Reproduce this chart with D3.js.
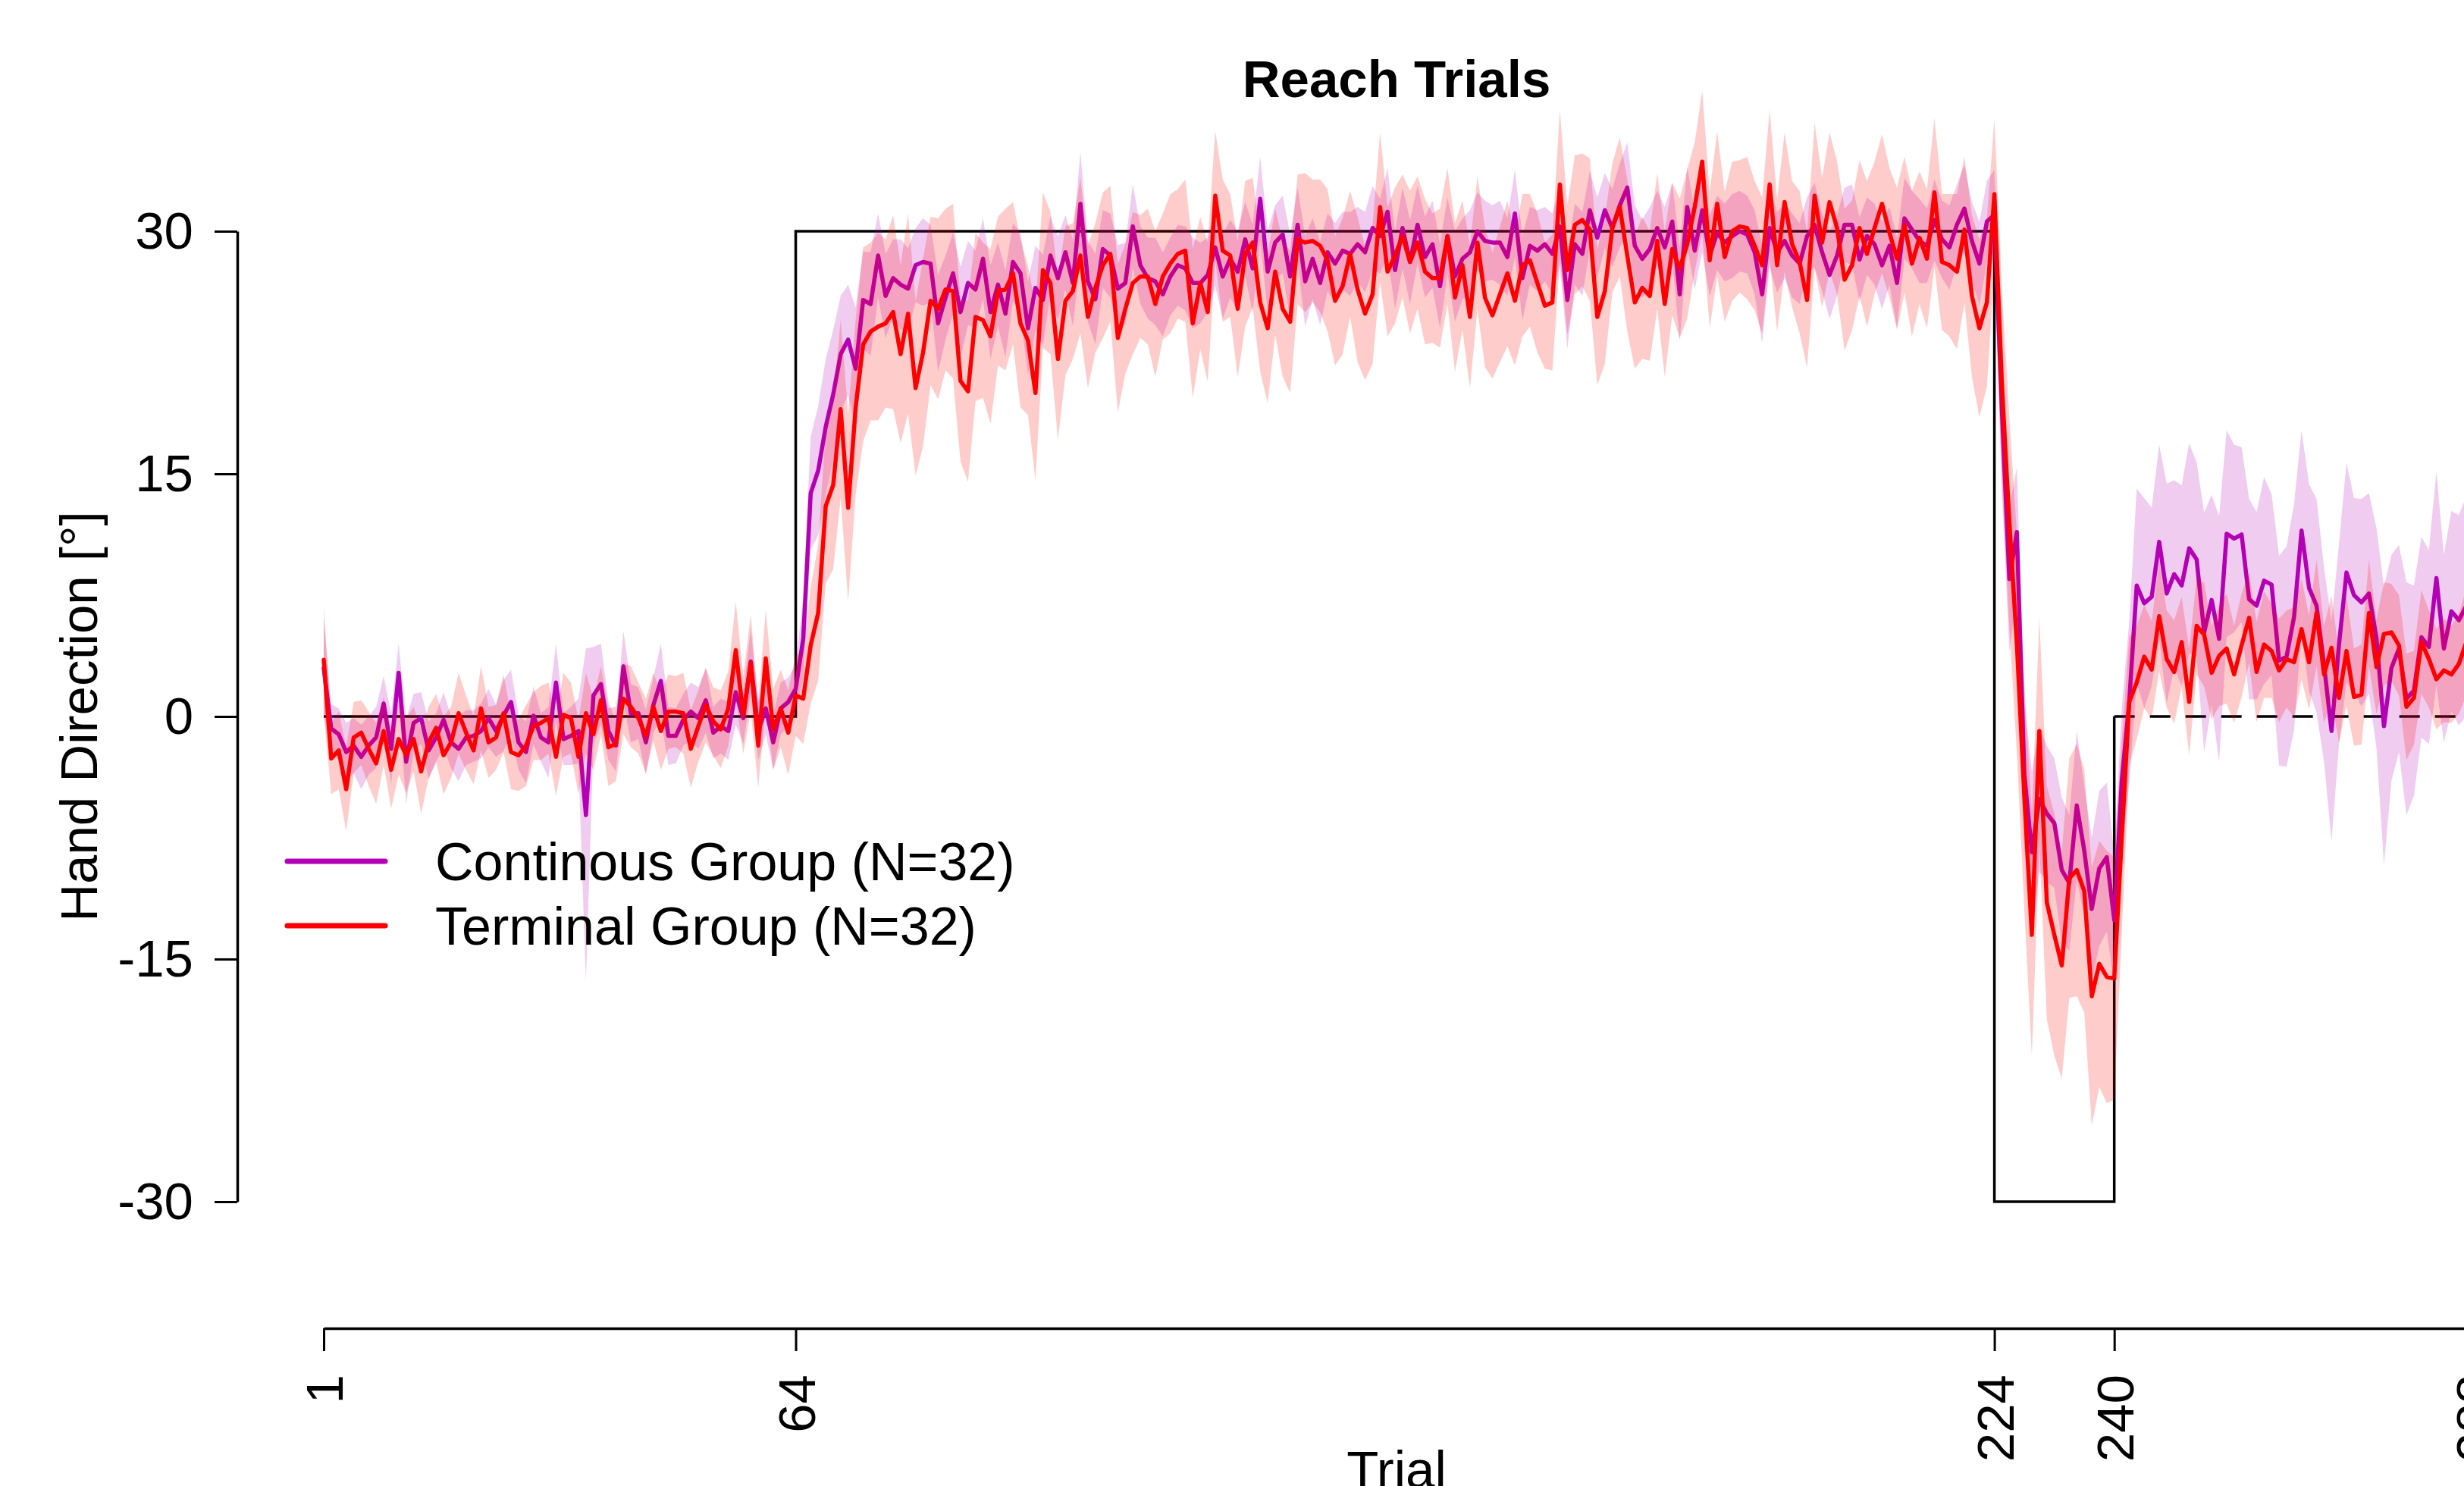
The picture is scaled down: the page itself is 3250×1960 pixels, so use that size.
<!DOCTYPE html>
<html>
<head>
<meta charset="utf-8">
<script src="https://cdn.jsdelivr.net/npm/d3@7"></script>
<style>
body { margin: 0; background: #fff; overflow: hidden; }
svg { display: block; }
text { font-family: "Liberation Sans", Arial, Helvetica, sans-serif; }
</style>
</head>
<body>
<script>
let width = 3250,
    height = 1960;

// perturbation schedule (trial, rotation)
let schedTrials = [1, 64, 64, 224, 224, 240, 240];
let schedRot    = [0, 0, 30, 30, -30, -30, 0];
let washTrials  = [240, 288];
let washRot     = [0, 0];

let xTicks = [1, 64, 224, 240, 288];
let yTicks = [-30, -15, 0, 15, 30];

let groupNames = ["Continous Group (N=32)", "Terminal Group (N=32)"];

// mean hand direction per trial, continuous group
let contMean = [
  3.0, -0.75, -1.1, -2.2, -1.8, -2.5, -1.8, -1.3, 0.8, -2.0,
  2.7, -2.8, -0.4, -0.1, -2.1, -1.3, -0.2, -1.6, -2.0, -1.3,
  -1.2, -0.9, -0.1, -0.9, 0.05, 0.9, -1.6, -2.2, 0.05, -1.3,
  -1.6, 2.1, -1.4, -1.2, -0.9, -6.1, 1.3, 2.0, -0.9, -1.8,
  3.1, 0.2, 0.2, -1.6, 0.7, 2.2, -1.2, -1.2, -0.2, 0.3,
  -0.1, 1.0, -1.0, -0.6, -0.9, 1.5, -0.1, 3.4, -0.9, 0.5,
  -1.6, 0.5, 0.9, 1.7, 4.8, 13.8, 15.2, 17.9, 19.9, 22.4,
  23.3, 21.5, 25.75, 25.5, 28.5, 26.0, 27.1, 26.7, 26.45, 27.9,
  28.1, 28.0, 24.3, 25.9, 27.4, 25.0, 26.8, 26.4, 28.3, 25.0,
  26.7, 24.9, 28.1, 27.4, 24.0, 26.5, 25.75, 28.5, 27.1, 28.7,
  26.8, 31.7, 26.9, 25.8, 28.9, 28.5, 26.45, 26.8, 30.3, 27.9,
  27.1, 26.9, 26.1, 27.2, 27.9, 27.7, 26.8, 26.8, 27.3, 29.0,
  27.2, 28.3, 27.5, 29.5, 27.7, 32.0, 27.5, 29.3, 29.8, 27.2,
  30.4, 26.9, 28.3, 26.8, 28.7, 28.0, 28.8, 28.6, 29.2, 28.7,
  30.2, 29.7, 31.2, 27.6, 30.2, 28.1, 30.4, 28.4, 29.2, 26.6,
  29.7, 27.2, 28.3, 28.7, 30.0, 29.4, 29.3, 29.3, 28.4, 31.1,
  27.1, 29.1, 28.8, 29.2, 28.6, 30.3, 25.75, 29.2, 28.6, 31.3,
  29.6, 31.3, 30.2, 31.6, 32.7, 29.1, 28.3, 28.9, 30.2, 29.0,
  30.6, 26.1, 31.5, 28.8, 31.3, 28.5, 29.9, 29.3, 29.7, 30.0,
  29.8, 28.7, 26.1, 30.2, 28.7, 29.4, 28.5, 28.0, 29.7, 30.4,
  28.7, 27.3, 28.5, 30.4, 30.4, 28.25, 29.7, 29.2, 27.9, 29.1,
  26.8, 30.8, 30.1, 29.4, 29.1, 30.7, 29.5, 29.0, 30.4, 31.4,
  29.4, 28.0, 30.6, 31.0, 19.0, 8.5, 11.4, -3.6, -8.4, -5.1,
  -6.0, -6.6, -9.5, -10.3, -5.5, -8.3, -11.9, -9.4, -8.7, -12.6,
  -4.0, 0.9, 8.1, 7.0, 7.4, 10.8, 7.6, 8.8, 8.1, 10.4,
  9.7, 5.2, 7.2, 4.8, 11.3, 11.0, 11.25, 7.25, 6.85, 8.4,
  8.15, 3.45, 3.7, 6.15, 11.5, 7.95, 6.85, 3.2, -0.9, 4.45,
  8.9, 7.5, 7.05, 7.6, 4.85, -0.6, 3.0, 4.2, 1.1, 1.6,
  4.9, 4.3, 8.55, 4.2, 6.5, 5.95, 6.85, 7.5
];

// 95% CI half-width per trial, continuous group
let contCI = [
  3.0, 1.5, 1.6, 1.8, 1.7, 2.0, 1.8, 1.9, 1.7, 2.2,
  1.8, 2.6, 1.8, 1.6, 1.8, 1.5, 1.7, 1.6, 2.0, 1.7,
  1.6, 1.7, 1.8, 1.6, 2.2, 2.0, 1.7, 1.9, 1.8, 1.5,
  2.2, 2.4, 1.6, 1.8, 2.0, 10.3, 3.0, 2.5, 1.8, 1.6,
  2.2, 1.8, 1.6, 2.0, 1.7, 2.3, 1.8, 1.7, 1.6, 1.8,
  1.9, 2.0, 1.6, 1.7, 1.8, 2.0, 1.6, 2.0, 1.8, 1.6,
  1.7, 1.6, 1.5, 1.5, 2.5, 3.5, 4.0, 4.2, 4.0, 3.6,
  3.4, 3.8, 3.0, 3.2, 2.6, 2.6, 2.4, 2.8, 2.5, 2.3,
  2.7, 2.4, 3.0, 2.6, 2.5, 2.8, 2.6, 2.4, 2.5, 2.9,
  2.6, 2.7, 2.4, 2.5, 2.9, 2.6, 2.8, 2.4, 2.6, 2.3,
  2.7, 3.2, 2.5, 2.8, 2.4, 2.6, 2.7, 2.5, 2.6, 2.4,
  2.5, 2.7, 2.6, 2.4, 2.5, 2.6, 2.8, 2.5, 2.3, 2.4,
  2.6, 2.4, 2.5, 2.3, 2.7, 2.6, 2.5, 2.3, 2.4, 2.6,
  2.3, 2.8, 2.5, 2.6, 2.4, 2.5, 2.4, 2.6, 2.3, 2.5,
  2.6, 2.3, 2.7, 2.4, 2.5, 2.6, 2.4, 2.5, 2.7, 2.6,
  2.4, 2.8, 2.5, 2.6, 2.4, 2.5, 2.3, 2.6, 2.4, 2.7,
  2.6, 2.4, 2.5, 2.3, 2.5, 2.4, 3.0, 2.5, 2.6, 2.4,
  2.5, 2.3, 2.4, 2.6, 2.8, 2.5, 2.4, 2.6, 2.3, 2.5,
  2.4, 2.9, 2.5, 2.4, 2.6, 2.5, 2.3, 2.4, 2.6, 2.5,
  2.4, 2.6, 3.0, 2.4, 2.5, 2.3, 2.6, 2.5, 2.4, 2.6,
  2.4, 2.7, 2.5, 2.3, 2.5, 2.6, 2.4, 2.5, 2.7, 2.4,
  2.8, 2.5, 2.4, 2.6, 2.3, 2.5, 2.4, 2.6, 2.5, 2.7,
  2.4, 2.6, 2.5, 2.8, 5.0, 4.5, 4.0, 4.5, 5.0, 4.5,
  4.2, 4.0, 4.5, 4.2, 4.6, 4.0, 4.4, 4.8, 4.6, 4.0,
  4.5, 5.0, 6.0, 6.5, 5.5, 6.0, 6.8, 5.8, 6.2, 6.5,
  6.0, 7.4, 6.5, 7.6, 6.4, 5.8, 5.4, 6.2, 5.8, 6.4,
  5.6, 6.5, 6.8, 7.0, 6.2, 6.4, 6.6, 6.0, 6.8, 6.2,
  6.8, 6.0, 6.4, 6.2, 6.8, 8.6, 7.0, 6.4, 7.2, 6.5,
  6.2, 6.0, 6.6, 5.8, 6.2, 6.5, 6.8, 6.5
];

// mean hand direction per trial, terminal group
let termMean = [
  3.5, -2.6, -2.1, -4.5, -1.3, -1.0, -2.0, -2.9, -0.9, -3.3,
  -1.4, -2.4, -1.4, -3.4, -1.6, -0.7, -2.4, -1.6, 0.2, -1.0,
  -2.1, 0.5, -1.6, -1.3, 0.2, -2.2, -2.4, -1.8, -0.6, -0.4,
  -0.1, -2.5, 0.1, -0.1, -2.5, 0.2, -1.1, 1.0, -1.9, -1.7,
  1.1, 0.6, -0.1, -1.2, 0.6, -0.9, 0.3, 0.3, 0.2, -2.0,
  -0.6, 0.7, -0.3, -0.8, 0.5, 4.1, 0.1, 3.3, -1.8, 3.6,
  -0.8, 0.5, -1.0, 1.3, 1.1, 4.4, 6.4, 13.0, 14.3, 19.0,
  12.9, 19.1, 23.0, 23.8, 24.1, 24.3, 25.0, 22.4, 24.9, 20.3,
  22.5, 25.7, 25.2, 26.4, 26.3, 20.75, 20.1, 24.7, 24.5, 23.5,
  26.3, 26.4, 27.4, 24.3, 23.25, 20.0, 27.6, 26.8, 22.1, 25.7,
  26.3, 28.5, 24.7, 26.5, 27.9, 28.6, 23.4, 25.2, 26.8, 27.2,
  27.2, 25.5, 27.2, 28.0, 28.6, 28.8, 24.3, 26.8, 25.0, 32.2,
  28.8, 28.5, 25.2, 28.6, 29.3, 25.6, 24.0, 27.5, 25.2, 24.4,
  29.5, 29.3, 29.4, 29.1, 28.2, 25.7, 26.6, 28.6, 26.4, 24.9,
  26.1, 31.5, 27.5, 28.5, 29.7, 28.1, 29.3, 27.5, 27.1, 27.1,
  29.7, 25.9, 27.9, 24.7, 29.3, 25.9, 24.8, 26.1, 27.4, 25.7,
  27.9, 28.2, 26.8, 25.4, 25.6, 32.9, 27.6, 30.4, 30.7, 30.1,
  24.7, 26.3, 30.2, 31.5, 28.5, 25.6, 26.5, 26.0, 29.4, 25.5,
  28.9, 27.7, 29.2, 31.5, 34.3, 28.2, 31.7, 28.4, 30.0, 30.3,
  30.2, 29.1, 27.9, 32.9, 27.9, 31.8, 29.2, 28.1, 25.75, 32.2,
  29.3, 31.8, 30.2, 27.0, 27.9, 30.2, 28.6, 30.2, 31.7, 29.9,
  28.3, 30.4, 28.0, 29.6, 28.3, 32.4, 28.1, 27.9, 27.5, 30.1,
  26.0, 24.0, 25.6, 32.3, 20.5, 12.0, 4.5, -5.0, -13.5, -0.9,
  -11.5, -13.5, -15.4, -10.0, -9.5, -10.8, -17.3, -15.3, -16.1, -16.2,
  -7.5, 0.9, 2.1, 3.7, 2.9, 6.2, 3.55, 2.75, 4.6, 0.9,
  5.6, 5.05, 2.7, 3.75, 4.2, 2.6, 4.4, 6.1, 2.75, 4.45,
  4.05, 2.85, 3.55, 3.35, 5.4, 3.35, 6.4, 2.6, 4.25, 1.15,
  4.05, 1.2, 1.35, 6.4, 3.05, 5.1, 5.2, 4.4, 0.6, 1.15,
  4.6, 3.55, 2.3, 2.85, 2.6, 3.25, 4.6, 4.0
];

// 95% CI half-width per trial, terminal group
let termCI = [
  3.3, 2.2, 2.4, 2.6, 2.2, 2.0, 2.3, 2.5, 2.1, 2.4,
  2.2, 2.3, 2.0, 2.6, 2.2, 2.1, 2.4, 2.2, 2.5, 2.3,
  2.1, 2.6, 2.2, 2.0, 2.4, 2.3, 2.2, 2.5, 2.1, 2.3,
  2.2, 2.4, 2.6, 2.2, 2.3, 2.5, 2.2, 2.1, 2.4, 2.3,
  2.2, 2.5, 2.2, 2.3, 2.1, 2.4, 2.3, 2.2, 2.5, 2.4,
  2.2, 2.3, 2.1, 2.4, 2.3, 3.0, 2.4, 3.0, 2.6, 3.0,
  2.5, 2.4, 2.6, 2.5, 2.8, 3.6, 4.2, 4.8, 5.2, 5.5,
  5.8, 5.4, 6.0, 5.5, 5.8, 5.2, 6.0, 5.5, 6.2, 5.4,
  5.8, 5.2, 5.6, 5.0, 5.4, 5.0, 5.6, 5.2, 4.8, 5.4,
  4.6, 5.0, 4.4, 5.2, 4.6, 5.4, 4.8, 4.4, 5.0, 4.6,
  4.2, 4.8, 4.4, 4.0, 4.5, 4.2, 4.6, 4.0, 4.4, 3.8,
  4.2, 4.5, 3.9, 4.3, 4.0, 4.4, 4.6, 4.1, 4.3, 4.0,
  4.4, 3.8, 4.2, 4.5, 4.0, 4.3, 4.6, 3.9, 4.2, 4.4,
  4.0, 4.3, 3.8, 4.1, 4.4, 4.0, 4.2, 3.9, 4.5, 4.1,
  4.3, 4.6, 4.0, 4.2, 3.8, 4.4, 4.1, 4.5, 4.0, 4.3,
  4.2, 4.6, 4.0, 4.4, 4.1, 4.3, 3.9, 4.2, 4.5, 4.0,
  4.4, 4.1, 4.3, 3.9, 4.2, 4.6, 4.0, 4.3, 4.1, 4.4,
  4.2, 4.5, 4.0, 4.3, 4.7, 4.1, 4.4, 4.0, 4.2, 4.5,
  4.1, 4.3, 4.6, 4.0, 4.4, 4.2, 4.5, 4.0, 4.3, 4.1,
  4.4, 4.0, 4.2, 4.6, 4.1, 4.3, 3.9, 4.4, 4.2, 4.5,
  4.0, 4.3, 4.1, 4.4, 4.0, 4.2, 4.5, 4.1, 4.3, 4.0,
  4.4, 4.2, 4.5, 4.1, 4.3, 4.6, 4.2, 4.4, 4.8, 4.5,
  5.0, 5.5, 5.2, 4.6, 6.0, 6.5, 6.8, 7.0, 7.5, 7.0,
  7.2, 7.5, 7.0, 7.4, 7.8, 7.5, 8.0, 7.6, 7.8, 7.5,
  6.0, 4.0, 3.5, 3.2, 3.0, 3.4, 3.0, 3.2, 2.8, 3.3,
  3.0, 3.2, 2.9, 3.1, 3.4, 3.0, 3.2, 2.8, 3.1, 3.3,
  2.9, 3.2, 3.0, 3.4, 3.1, 2.9, 3.3, 3.0, 3.2, 2.8,
  3.4, 3.0, 3.1, 3.3, 2.9, 3.2, 3.0, 3.1, 3.3, 2.9,
  3.2, 3.0, 3.1, 3.2, 3.0, 3.1, 3.3, 3.0
];

let font = '"Liberation Sans", Arial, Helvetica, sans-serif';
let fontSize = 69;

let svg = d3.select("body")
            .append("svg")
            .attr("width", width)
            .attr("height", height);

let xScale = d3.scaleLinear()
               .domain([1, 288])
               .range([427, 3263]);

let yScale = d3.scaleLinear()
               .domain([-30, 30])
               .range([1585, 305]);

let line = d3.line()
             .x(function(d) { return xScale(d[0]); })
             .y(function(d) { return yScale(d[1]); });

// schedule line (drawn first, bands go over it)
svg.append("path")
   .datum(d3.zip(schedTrials, schedRot))
   .attr("d", line)
   .attr("fill", "none")
   .attr("stroke", "#000")
   .attr("stroke-width", 3.5);

svg.append("path")
   .datum(d3.zip(washTrials, washRot))
   .attr("d", line)
   .attr("fill", "none")
   .attr("stroke", "#000")
   .attr("stroke-width", 3.5)
   .attr("stroke-dasharray", "27,20");

let groups = [
  {mean: contMean, ci: contCI, col: "#b400b4", band: "rgba(180,0,180,0.2)"},
  {mean: termMean, ci: termCI, col: "#ff0000", band: "rgba(255,0,0,0.2)"}
];

let area = d3.area()
             .x(function(d) { return xScale(d.t); })
             .y0(function(d) { return yScale(d.m - d.c); })
             .y1(function(d) { return yScale(d.m + d.c); });

let meanLine = d3.line()
                 .x(function(d) { return xScale(d.t); })
                 .y(function(d) { return yScale(d.m); });

groups.forEach(function(g) {
  let rows = g.mean.map(function(m, i) {
    return {t: i + 1, m: m, c: g.ci[i]};
  });
  svg.append("path")
     .datum(rows)
     .attr("d", area)
     .attr("fill", g.band)
     .attr("stroke", "none");
  svg.append("path")
     .datum(rows)
     .attr("d", meanLine)
     .attr("fill", "none")
     .attr("stroke", g.col)
     .attr("stroke-width", 5.5)
     .attr("stroke-linejoin", "round")
     .attr("stroke-linecap", "round");
});

// axes (plain hyphen for negatives, like the original)
let yAxis = d3.axisLeft(yScale)
              .tickValues(yTicks)
              .tickSize(30)
              .tickSizeOuter(0)
              .tickPadding(28)
              .tickFormat(function(d) { return String(d); });

let gy = svg.append("g")
   .attr("transform", "translate(313,0)")
   .call(yAxis);

let xAxis = d3.axisBottom(xScale)
              .tickValues(xTicks)
              .tickSize(30)
              .tickSizeOuter(0)
              .tickFormat(function(d) { return String(d); });

let gx = svg.append("g")
   .attr("transform", "translate(0,1752)")
   .call(xAxis);

[gx, gy].forEach(function(g) {
  g.select(".domain").attr("stroke", "#000").attr("stroke-width", 3.5);
  g.selectAll(".tick line").attr("stroke", "#000").attr("stroke-width", 3);
  g.selectAll("text")
   .attr("font-family", font)
   .attr("font-size", fontSize)
   .attr("fill", "#000");
});

gx.selectAll(".tick text")
  .attr("transform", "rotate(-90)")
  .attr("x", -61)
  .attr("y", 0)
  .attr("dy", "0.36em")
  .attr("text-anchor", "end");

// title and axis labels
svg.append("text")
   .attr("x", 1842)
   .attr("y", 128)
   .attr("text-anchor", "middle")
   .attr("font-weight", "bold")
   .attr("font-family", font)
   .attr("font-size", fontSize)
   .text("Reach Trials");

svg.append("text")
   .attr("transform", "translate(128,945) rotate(-90)")
   .attr("text-anchor", "middle")
   .attr("font-family", font)
   .attr("font-size", fontSize)
   .text("Hand Direction [°]");

svg.append("text")
   .attr("x", 1842)
   .attr("y", 1962)
   .attr("text-anchor", "middle")
   .attr("font-family", font)
   .attr("font-size", fontSize)
   .text("Trial");

// legend
let legend = svg.append("g").attr("transform", "translate(379,1136)");
groupNames.forEach(function(name, i) {
  legend.append("line")
        .attr("x1", 0).attr("x2", 129)
        .attr("y1", i * 85).attr("y2", i * 85)
        .attr("stroke", groups[i].col)
        .attr("stroke-width", 7)
        .attr("stroke-linecap", "round");
  legend.append("text")
        .attr("x", 195)
        .attr("y", i * 85)
        .attr("dy", "0.36em")
        .attr("font-family", font)
        .attr("font-size", fontSize + 1)
        .text(name);
});
</script>
</body>
</html>
